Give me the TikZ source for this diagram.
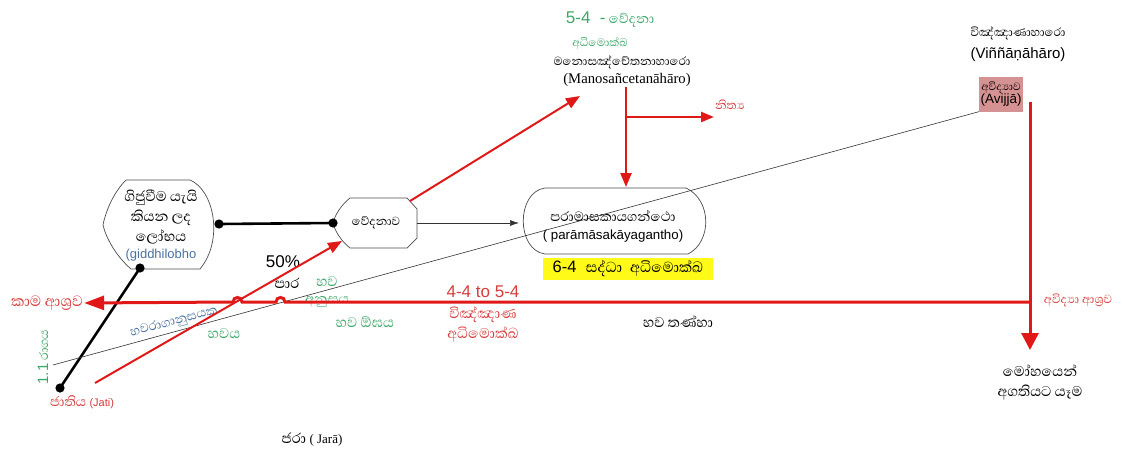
\documentclass[tikz,border=0pt]{standalone}
\usepackage{fontspec}
\setmainfont{Liberation Sans}
\newfontfamily\sinhalafont[Script=Sinhala]{Abhaya Libre}
\newfontfamily\timesfont{Liberation Serif}
\usetikzlibrary{arrows.meta,calc}

\definecolor{arrowred}{RGB}{224,24,24}
\definecolor{textred}{RGB}{214,60,60}
\definecolor{textgreen}{RGB}{60,168,104}
\definecolor{textblue}{RGB}{74,114,160}
\definecolor{avijjapink}{RGB}{214,146,146}
\definecolor{hiyellow}{RGB}{255,250,24}

\newcommand{\sfs}[2]{\sinhalafont\fontsize{#1}{#2}\selectfont}
\newcommand{\lfs}[1]{\fontsize{#1}{#1}\selectfont}

\begin{document}
\begin{tikzpicture}[x=1pt,y=-1pt,
   si/.style={font=\sfs{18}{20},align=center,inner sep=1pt},
   sired/.style={si,text=textred},
   sigreen/.style={si,text=textgreen},
   outline/.style={draw=black!70,line width=0.7pt},
   thickline/.style={line width=2.6pt},
   thinline/.style={draw=black!80,line width=0.6pt},
   redline/.style={draw=arrowred,line width=2pt},
   bigredline/.style={draw=arrowred,line width=3pt},
   redtip/.style={-{Triangle[length=14pt,width=11pt]}},
   dot/.style={fill=black}
]
   \useasboundingbox (0,0) rectangle (1126,460);

   % boxes
   \node[si] (gid) at (161,226) {ගිජුවීම යැයි\\කියන ලද\\ලෝභය\\[-3pt]
      {\normalfont\lfs{13}\color{textblue}(giddhilobho}};
   \draw[outline] (126,180) -- (190,180) .. controls (214,190) and (224,240) ..
      (200,269) -- (131,269) .. controls (116,256) and (106,238) .. (103,225)
      .. controls (106,210) and (114,192) .. (126,180);

   \node[si,font=\sfs{15}{15}] (ved) at (376,223) {වේදනාව};
   \draw[outline] (350,198) -- (407,198) -- (417,209) -- (417,238) -- (407,248)
      -- (350,248) .. controls (341,241) and (335,231) .. (333,223)
      .. controls (335,215) and (341,205) .. (350,198);

   \node[si,font=\sfs{17}{18}] (param) at (613,226)
      {පරාමාසකායගන්ථො\\{\normalfont\lfs{13.3}( parāmāsakāyagantho)}};
   \draw[outline] (545,188) -- (686,188) .. controls (712,200) and (712,242) ..
      (688,254) -- (545,254) .. controls (516,250) and (516,192) .. (545,188);

   \node[fill=hiyellow,inner sep=2pt,minimum width=170pt,minimum height=22pt,
      font=\lfs{16.5}] (saddha) at (628,269)
      {6-4\hspace{9pt}{\sfs{18.5}{18}සද්ධා\hspace{8pt}අධිමොක්ඛ}};

   \node[fill=avijjapink,inner sep=1pt,minimum width=44pt,minimum height=35pt,
      align=center,font=\lfs{13.5}] (avij) at (1001,94)
      {{\sfs{13.5}{13.5}අවිද්^^^^200dයාව}\\[-1pt](Avijjā)};

   % top texts
   \node[sigreen,font=\sfs{17}{17}] (vedana54) at (610,20)
      {{\normalfont\lfs{17}5-4~~-}~වේදනා};
   \node[sigreen,font=\sfs{14}{14}] (adhi54) at (600,43) {අධිමොක්ඛ};
   \node[si,font=\sfs{15}{15}] (mano) at (622,62) {මනොසඤ්චේතනාහාරො};
   \node[inner sep=1pt,font=\timesfont\lfs{14.7}] (manolatin)
      at (627,80) {(Manosañcetanāhāro)};
   \node[si,font=\sfs{15}{15}] (vinn) at (1018,33) {විඤ්ඤාණාහාරො};
   \node[inner sep=1pt,font=\lfs{15}] (vinnlatin) at (1018,55) {(Viññāṇāhāro)};
   \node[sired,font=\sfs{15}{15},anchor=west] (nitya) at (714,105) {නිත්^^^^200dය};

   % left texts
   \node[sired,font=\sfs{19}{19}] (kama) at (47,303) {කාම ආශ්^^^^200dරව};
   \node[sigreen,font=\sfs{15.5}{15.5},rotate=90] (raga) at (43,357)
      {{\normalfont\lfs{15}1.1} රාගය};
   \node[sired,font=\sfs{17}{17}] (jati) at (82,402)
      {ජාතිය {\normalfont\lfs{11}(Jati)}};
   \node[si,font=\sfs{16}{16},text=textblue,rotate=15,inner sep=0pt]
      (bhavaraga) at (174,322) {හවරාගානුසයක};
   \node[sigreen,inner sep=0pt] (bhavaya) at (224,334) {හවය};

   % middle texts
   \node[inner sep=1pt,font=\lfs{17}] (pct) at (283,262) {50\%};
   \node[si] (para) at (287,283) {පාර};
   \node[sigreen] (bhava) at (327,282) {හව};
   \node[sigreen,font=\sfs{17}{17}] (anusaya) at (327,302) {අනුසය};
   \node[sigreen] (ogha) at (365,322) {හව ඕඝය};
   \node[inner sep=1pt,text=textred,font=\lfs{17}] (range) at (483,292) {4-4 to 5-4};
   \node[sired] (vinnred) at (483,325) {විඤ්ඤාණ\\අධිමොක්ඛ};
   \node[si] (tanha) at (678,322) {හව තණ්හා};

   % right and bottom texts
   \node[sired,font=\sfs{15}{15}] (avasrava) at (1078,300)
      {අවිද්^^^^200dයා ආශ්^^^^200dරව};
   \node[si] (moha) at (1040,382) {මෝහයෙන්\\අගතියට යෑම};
   \node[si] (jara) at (312,440) {ජරා {\timesfont\lfs{13}( Jarā)}};

   % connector ends
   \coordinate (gidE) at (219,224);
   \coordinate (gidS) at (140,268);
   \coordinate (vedW) at (333,223);
   \coordinate (jatiDot) at (60,388);
   \coordinate (redStart) at (95,383);
   \coordinate (vedIn) at (342,241);
   \coordinate (vedOut) at (410,201);
   \coordinate (manoIn) at (580,96);
   \coordinate (manoDown) at (626,87);
   \coordinate (nityaFrom) at (627,117);
   \coordinate (bhavaStart) at (53,365);
   \coordinate (avijDown) at (1030,102);
   \coordinate (avijMid) at (1030,302);

   % black lines
   \draw[thickline] (gidE) -- (vedW);
   \draw[thickline] (gidS) -- (jatiDot);
   \foreach \p in {gidE,gidS,vedW,jatiDot}
      \fill[dot] (\p) circle (4.6);
   \draw[thinline,-{Latex[length=9pt,width=6pt]}] (ved.east -| 417,0) -- (519,223);
   \draw[thinline] (bhavaStart) -- (avij.south west);

   % red arrows
   \draw[redline,redtip] (redStart) -- (vedIn);
   \draw[redline,redtip] (vedOut) -- (manoIn);
   \draw[redline,line width=2.4pt,redtip] (manoDown) -- (manoDown |- 0,187);
   \draw[redline,line width=2.4pt,-{Triangle[length=13pt,width=10pt]}]
      (nityaFrom) -- (nitya.west |- 0,117);
   \draw[bigredline,-{Triangle[length=17pt,width=17pt]}] (avijDown) -- (1030,350);
   \draw[bigredline,-{Triangle[length=20pt,width=14pt]}] (avijMid) -- (285,302)
      .. controls (285,296) and (276,296) .. (276,302) -- (242,302)
      .. controls (242,296) and (233,296) .. (233,302) -- (kama.east);
\end{tikzpicture}
\end{document}
